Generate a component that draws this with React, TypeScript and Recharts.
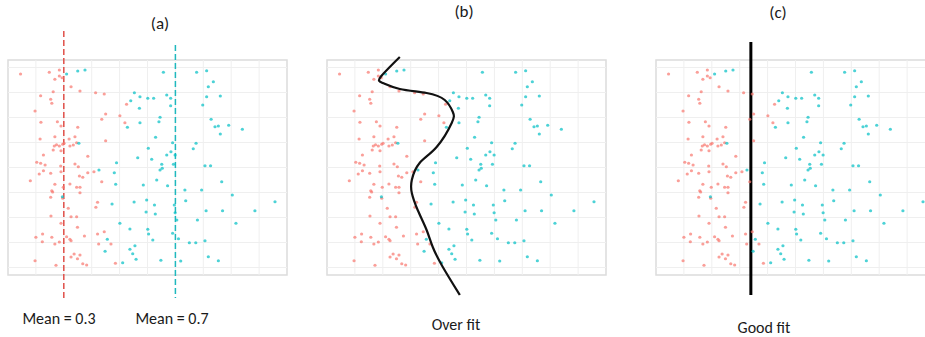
import { ScatterChart, Scatter, XAxis, YAxis, ReferenceLine, ReferenceArea } from 'recharts'

// class 1 points (x, jitter y)
const redPoints: [number, number][] = [
  [0.145, 7.74], [0.248, 7.81], [0.284, 7.9], [0.268, 7.53], [0.284, 7.66], [0.294, 7.59],
  [0.326, 7.23], [0.358, 7.06], [0.262, 7.03], [0.217, 6.87], [0.253, 6.73], [0.414, 6.99],
  [0.445, 6.94], [0.257, 6.57], [0.197, 6.26], [0.45, 6.14], [0.436, 5.93], [0.501, 6.07],
  [0.519, 5.79], [0.525, 6.53], [0.218, 5.81], [0.277, 5.83], [0.29, 5.66], [0.35, 5.61],
  [0.215, 5.14], [0.268, 5.23], [0.319, 5.14], [0.34, 5.23], [0.45, 5.07], [0.274, 4.91],
  [0.266, 4.86], [0.284, 4.86], [0.296, 4.93], [0.301, 4.97], [0.322, 4.86], [0.334, 4.9],
  [0.346, 4.99], [0.262, 4.7], [0.29, 4.67], [0.386, 4.45], [0.227, 4.5], [0.203, 4.21],
  [0.217, 4.17], [0.233, 4.1], [0.289, 4.06], [0.34, 4.14], [0.352, 4.03], [0.18, 3.47],
  [0.212, 3.74], [0.253, 3.77], [0.227, 3.87], [0.29, 3.83], [0.356, 3.66], [0.368, 3.61],
  [0.386, 3.79], [0.408, 3.83], [0.436, 3.43], [0.268, 3.33], [0.322, 3.34], [0.346, 3.21],
  [0.358, 3.21], [0.298, 3.21], [0.257, 3.07], [0.26, 3.02], [0.253, 2.81], [0.296, 2.77],
  [0.358, 2.99], [0.421, 2.61], [0.415, 2.41], [0.316, 2.37], [0.254, 2.06], [0.29, 1.77],
  [0.326, 2.03], [0.346, 2.03], [0.349, 1.61], [0.2, 1.21], [0.224, 1.34], [0.223, 1.03],
  [0.257, 1.21], [0.268, 0.94], [0.284, 1.02], [0.31, 1.23], [0.322, 1.13], [0.326, 1.07],
  [0.374, 1.26], [0.421, 1.34], [0.445, 1.43], [0.425, 0.94], [0.469, 0.94], [0.197, 0.27],
  [0.272, 0.09], [0.326, 0.42], [0.337, 0.54], [0.349, 0.35], [0.358, 0.5], [0.368, 0.15],
  [0.382, 0.1], [0.485, 0.17],
]

// class 2 points
const tealPoints: [number, number][] = [
  [0.31, 7.74], [0.35, 7.86], [0.376, 7.9], [0.657, 7.81], [0.776, 7.81], [0.812, 7.87],
  [0.836, 7.43], [0.818, 7.23], [0.553, 6.99], [0.54, 6.67], [0.573, 6.83], [0.601, 6.77],
  [0.622, 6.77], [0.669, 6.9], [0.683, 6.77], [0.683, 6.47], [0.812, 6.83], [0.861, 6.86],
  [0.798, 6.5], [0.571, 6.37], [0.645, 6.01], [0.641, 5.83], [0.573, 5.79], [0.828, 5.93],
  [0.528, 5.61], [0.842, 5.63], [0.854, 5.66], [0.891, 5.69], [0.94, 5.53], [0.861, 5.34],
  [0.354, 4.97], [0.629, 5.21], [0.603, 4.77], [0.69, 4.99], [0.774, 4.97], [0.764, 4.75],
  [0.684, 4.63], [0.669, 4.5], [0.699, 4.5], [0.565, 4.39], [0.615, 4.33], [0.489, 4.19],
  [0.651, 4.13], [0.693, 4.13], [0.806, 4.07], [0.826, 4.07], [0.426, 3.9], [0.645, 3.9],
  [0.653, 3.97], [0.481, 3.79], [0.633, 3.5], [0.866, 3.43], [0.486, 3.33], [0.585, 3.3],
  [0.672, 3.27], [0.734, 3.1], [0.794, 3.1], [0.904, 2.9], [0.295, 2.83], [0.473, 2.54],
  [0.552, 2.62], [0.597, 2.7], [0.625, 2.5], [0.696, 2.5], [0.737, 2.67], [1.057, 2.63],
  [0.595, 2.22], [0.628, 2.14], [0.699, 2.19], [0.81, 2.27], [0.869, 2.27], [0.985, 2.27],
  [0.501, 1.77], [0.705, 1.9], [0.779, 1.9], [0.917, 1.77], [0.537, 1.54], [0.601, 1.53],
  [0.604, 1.34], [0.619, 1.1], [0.69, 1.37], [0.711, 1.15], [0.75, 0.99], [0.773, 0.99],
  [0.806, 1.07], [0.456, 1.13], [0.448, 0.65], [0.555, 0.87], [0.537, 0.73], [0.547, 0.55],
  [0.559, 0.33], [0.511, 0.19], [0.648, 0.29], [0.719, 0.26], [0.818, 0.43], [0.854, 0.27],
]

// wiggly boundary for panel (b)
const overfitCurve: [number, number][] = [
  [0.361, 8.42], [0.292, 7.62], [0.3, 7.38], [0.361, 7.14], [0.457, 6.98], [0.522, 6.7],
  [0.551, 6.22], [0.547, 5.78], [0.493, 4.82], [0.432, 4.18], [0.404, 3.5], [0.404, 2.98],
  [0.425, 2.3], [0.457, 1.5], [0.479, 0.82], [0.515, 0.02], [0.576, -1.1],
]

const meanRed = 0.3
const meanTeal = 0.7
const goodFitX = 0.44

const gridX = [0.2, 0.3, 0.4, 0.5, 0.6, 0.7, 0.8, 0.9, 1.0]
const gridY = [0, 1, 2, 3, 4, 5, 6, 7, 8]

const X_DOMAIN: [number, number] = [0.1, 1.1]
const Y_DOMAIN: [number, number] = [-1.22, 9.58]
const BOX = { x1: 0.1, x2: 1.1, y1: -0.3, y2: 8.3 }

const RED = '#F8766D'
const TEAL = '#00BFC4'
const FONT = "Carlito, 'Liberation Sans', Arial, sans-serif"

const toRows = (pts: [number, number][]) => pts.map(([x, y]) => ({ x, y }))

const dot = (color: string) => (p: any) => (
  <circle cx={p.cx} cy={p.cy} r={1.6} fill={color} fillOpacity={0.7} />
)

function Panel({ left, kind }: { left: number; kind: 'a' | 'b' | 'c' }) {
  return (
    <div style={{ position: 'absolute', left: left - 10, top: 0 }}>
      <ScatterChart width={299} height={337} margin={{ top: 28, right: 10, bottom: 39, left: 10 }}>
        <XAxis type="number" dataKey="x" domain={X_DOMAIN} hide />
        <YAxis type="number" dataKey="y" domain={Y_DOMAIN} hide />
        {gridX.map((g) => (
          <ReferenceLine
            key={'gx' + g}
            segment={[{ x: g, y: BOX.y1 }, { x: g, y: BOX.y2 }]}
            stroke="#efefef"
            strokeWidth={1}
          />
        ))}
        {gridY.map((g) => (
          <ReferenceLine
            key={'gy' + g}
            segment={[{ x: BOX.x1, y: g }, { x: BOX.x2, y: g }]}
            stroke="#efefef"
            strokeWidth={1}
          />
        ))}
        <ReferenceArea
          x1={BOX.x1}
          x2={BOX.x2}
          y1={BOX.y1}
          y2={BOX.y2}
          fill="none"
          fillOpacity={0}
          stroke="#dcdcdc"
          strokeWidth={1.5}
        />
        <Scatter data={toRows(redPoints)} shape={dot(RED)} isAnimationActive={false} />
        <Scatter data={toRows(tealPoints)} shape={dot(TEAL)} isAnimationActive={false} />
        {kind === 'a' && (
          <ReferenceLine
            segment={[{ x: meanRed, y: 9.46 }, { x: meanRed, y: -1.22 }]}
            stroke="#E0504A"
            strokeWidth={1.5}
            strokeDasharray="6 3"
          />
        )}
        {kind === 'a' && (
          <ReferenceLine
            segment={[{ x: meanTeal, y: 8.9 }, { x: meanTeal, y: -1.22 }]}
            stroke="#1FB8BE"
            strokeWidth={1.5}
            strokeDasharray="6 3"
          />
        )}
        {kind === 'b' && (
          <Scatter
            data={toRows(overfitCurve)}
            shape={() => <g />}
            line={{ stroke: '#111111', strokeWidth: 2.2 }}
            lineType="joint"
            lineJointType="natural"
            isAnimationActive={false}
          />
        )}
        {kind === 'c' && (
          <ReferenceLine
            segment={[{ x: goodFitX, y: 9.02 }, { x: goodFitX, y: -1.1 }]}
            stroke="#000000"
            strokeWidth={3}
          />
        )}
      </ScatterChart>
    </div>
  )
}

const label = (text: string, cx: number, cy: number, size = 16) => (
  <div
    style={{
      position: 'absolute',
      left: cx - 60,
      top: cy - size * 0.6,
      width: 120,
      textAlign: 'center',
      fontFamily: FONT,
      fontSize: size,
      lineHeight: `${size * 1.2}px`,
      color: '#1a1a1a',
    }}
  >
    {text}
  </div>
)

export default function App() {
  return (
    <div
      style={{
        position: 'absolute',
        left: 0,
        top: 0,
        width: 925,
        height: 337,
        overflow: 'hidden',
        background: '#fff',
      }}
    >
      <Panel left={8} kind="a" />
      <Panel left={327} kind="b" />
      <Panel left={656} kind="c" />
      {label('(a)', 160, 24, 17)}
      {label('(b)', 464, 12, 17)}
      {label('(c)', 778, 13, 17)}
      {label('Mean = 0.3', 59, 319)}
      {label('Mean = 0.7', 172, 319)}
      {label('Over fit', 456, 325)}
      {label('Good fit', 764, 328)}
    </div>
  )
}
